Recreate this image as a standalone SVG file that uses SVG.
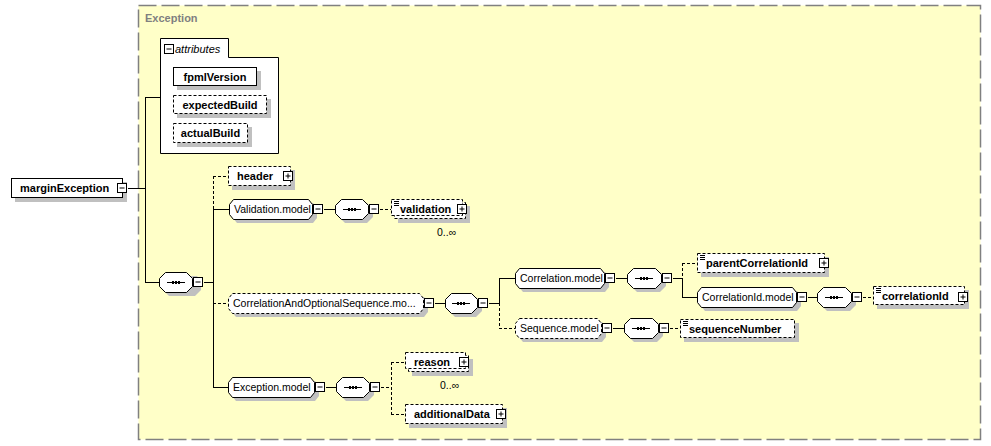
<svg xmlns="http://www.w3.org/2000/svg" width="991" height="446" viewBox="0 0 991 446">
<style>
.el{fill:#fff;stroke:#000;stroke-width:1}
.opt{stroke-dasharray:3,2}
.sh{fill:#c0c0c0;stroke:none}
.ln{fill:none;stroke:#000;stroke-width:1}
.dl{fill:none;stroke:#000;stroke-width:1;stroke-dasharray:3,2}
.tb{font-family:"Liberation Sans",Arial,sans-serif;font-size:11px;font-weight:bold;fill:#000}
.tn{font-family:"Liberation Sans",Arial,sans-serif;font-size:10.5px;fill:#000}
.ic{fill:#fff;stroke:#000;stroke-width:1}
</style>
<defs>
<g id="minus"><rect class="ic" x="0.5" y="0.5" width="9" height="9"/><path class="ln" d="M2.5 5H7.5"/></g>
<g id="plus"><rect class="ic" x="0.5" y="0.5" width="9" height="9"/><path class="ln" d="M2.5 5H7.5M5 2.5V7.5"/></g>
<g id="dots"><path class="ln" d="M0 0.5H18"/><rect x="5" y="-1" width="2" height="3" fill="#000"/><rect x="8" y="-1" width="2" height="3" fill="#000"/><rect x="11" y="-1" width="2" height="3" fill="#000"/></g>
<path id="tic" d="M0 0.5H5M0 2.5H5M0 4.5H5" fill="none" stroke="#000" stroke-width="1"/>
</defs>

<rect x="138.5" y="5.5" width="842" height="434" fill="#ffffc8" stroke="#808080" stroke-width="1.5" stroke-dasharray="18,5"/>
<text x="145" y="22" font-family="'Liberation Sans',Arial,sans-serif" font-size="11px" font-weight="bold" fill="#808080">Exception</text>

<g id="connectors">
<path class="ln" d="M128 188.5H145.5M145.5 97V283M145 97.5H160M145 282.5H159M204 282.5H213.5M213.5 209V387.5M213 209.5H229M213 387.5H228"/>
<path class="dl" d="M213.5 176V209M213 176.5H228M213 303.5H228"/>
<path class="ln" d="M324 209.5H335M435 303.5H445M489 303.5H499.5M499.5 278V303M499 278.5H515M616 278.5H627M673 278.5H682.5M682.5 278V297.5M682 297.5H697M808 297.5H817M613 328.5H624M326 387.5H336"/>
<path class="dl" d="M380 209.5H391M499.5 303V328.5M499 328.5H515M682.5 263V278M682 263.5H697M863 297.5H873M670 328.5H680M381 387.5H391.5M391.5 362V414.5M391 362.5H405M391 414.5H405"/>
</g>

<g id="marginException">
<rect class="sh" x="15" y="182" width="112" height="20"/>
<rect class="el" x="11.5" y="178.5" width="111" height="19"/>
<text class="tb" x="20" y="192">marginException</text>
<use href="#minus" x="117" y="183"/>
</g>

<g id="attributes">
<path class="el" d="M160.5 38.5H228.5V57.5H278.5V153.5H160.5Z"/>
<use href="#minus" x="164" y="44"/>
<text x="175" y="53" font-family="'Liberation Sans',Arial,sans-serif" font-size="11px" font-style="italic" fill="#000">attributes</text>
</g>
<g id="fpmlVersion">
<rect class="sh" x="177" y="71" width="84" height="19"/>
<rect class="el" x="173.5" y="67.5" width="83" height="18"/>
<text class="tb" x="215" y="80.5" text-anchor="middle">fpmlVersion</text>
</g>
<g id="expectedBuild">
<rect class="sh" x="177" y="99" width="94" height="19"/>
<rect class="el opt" x="173.5" y="95.5" width="93" height="18"/>
<text class="tb" x="220" y="108.5" text-anchor="middle">expectedBuild</text>
</g>
<g id="actualBuild">
<rect class="sh" x="177" y="127" width="75" height="20"/>
<rect class="el opt" x="173.5" y="123.5" width="74" height="19"/>
<text class="tb" x="210.5" y="137" text-anchor="middle">actualBuild</text>
</g>

<g id="seq1">
<path class="sh" d="M169 276H197L201 282V290L195 296H169L163 290V282Z"/>
<path class="el" d="M165.5 272.5H186.5L192.5 278.5V286.5L186.5 292.5H165.5L159.5 286.5V278.5Z"/>
<use href="#dots" x="167" y="282"/>
<use href="#minus" x="193" y="277"/>
</g>

<g id="header">
<rect class="sh" x="232" y="170" width="63" height="20"/>
<rect class="el opt" x="228.5" y="166.5" width="62" height="19"/>
<text class="tb" x="237" y="180">header</text>
<use href="#plus" x="283" y="171"/>
</g>

<g id="Validation.model">
<path class="sh" d="M237 203H313L317 208V218L313 223H237L233 218V208Z"/>
<path class="el" d="M233.5 199.5H308.5L312.5 204.5V214.5L308.5 219.5H233.5L229.5 214.5V204.5Z"/>
<text class="tn" x="234" y="213">Validation.model</text>
<use href="#minus" x="313" y="204"/>
</g>
<g id="seqV">
<path class="sh" d="M345 203H367L373 209V217L367 223H345L339 217V209Z"/>
<path class="el" d="M341.5 199.5H362.5L368.5 205.5V213.5L362.5 219.5H341.5L335.5 213.5V205.5Z"/>
<use href="#dots" x="343" y="209"/>
<use href="#minus" x="369" y="204"/>
</g>
<g id="validation">
<rect class="sh" x="398" y="206" width="72" height="17"/>
<rect class="el opt" x="394.5" y="202.5" width="71" height="16"/>
<rect class="el opt" x="391.5" y="199.5" width="71" height="16"/>
<use href="#tic" x="394" y="201"/>
<text class="tb" x="400" y="213">validation</text>
<use href="#plus" x="457" y="204"/>
<text class="tn" x="437" y="236">0..∞</text>
</g>

<g id="CorrelationAndOptionalSequence.model">
<path class="sh" d="M236 297H424L428 302V312L424 317H236L232 312V302Z"/>
<path class="el opt" d="M232.5 293.5H419.5L423.5 298.5V308.5L419.5 313.5H232.5L228.5 308.5V298.5Z"/>
<text class="tn" x="233" y="307">CorrelationAndOptionalSequence.mo...</text>
<use href="#minus" x="424" y="298"/>
</g>
<g id="seqC">
<path class="sh" d="M455 297H476L482 303V311L476 317H455L449 311V303Z"/>
<path class="el" d="M451.5 293.5H471.5L477.5 299.5V307.5L471.5 313.5H451.5L445.5 307.5V299.5Z"/>
<use href="#dots" x="452" y="303"/>
<use href="#minus" x="478" y="298"/>
</g>

<g id="Correlation.model">
<path class="sh" d="M523 272H605L609 277V287L605 292H523L519 287V277Z"/>
<path class="el" d="M519.5 268.5H600.5L604.5 273.5V283.5L600.5 288.5H519.5L515.5 283.5V273.5Z"/>
<text class="tn" x="520" y="282">Correlation.model</text>
<use href="#minus" x="605" y="273"/>
</g>
<g id="seqCo">
<path class="sh" d="M637 272H660L666 278V286L660 292H637L631 286V278Z"/>
<path class="el" d="M633.5 268.5H655.5L661.5 274.5V282.5L655.5 288.5H633.5L627.5 282.5V274.5Z"/>
<use href="#dots" x="635" y="278"/>
<use href="#minus" x="662" y="273"/>
</g>
<g id="parentCorrelationId">
<rect class="sh" x="701" y="257" width="128" height="20"/>
<rect class="el opt" x="697.5" y="253.5" width="127" height="19"/>
<use href="#tic" x="700" y="255"/>
<text class="tb" x="706" y="267">parentCorrelationId</text>
<use href="#plus" x="819" y="258"/>
</g>
<g id="CorrelationId.model">
<path class="sh" d="M705 291H797L801 296V306L797 311H705L701 306V296Z"/>
<path class="el" d="M701.5 287.5H792.5L796.5 292.5V302.5L792.5 307.5H701.5L697.5 302.5V292.5Z"/>
<text class="tn" x="702" y="301">CorrelationId.model</text>
<use href="#minus" x="797" y="292"/>
</g>
<g id="seqCi">
<path class="sh" d="M827 291H850L856 297V305L850 311H827L821 305V297Z"/>
<path class="el" d="M823.5 287.5H845.5L851.5 293.5V301.5L845.5 307.5H823.5L817.5 301.5V293.5Z"/>
<use href="#dots" x="825" y="297"/>
<use href="#minus" x="852" y="292"/>
</g>
<g id="correlationId">
<rect class="sh" x="877" y="290" width="92" height="19"/>
<rect class="el opt" x="873.5" y="286.5" width="91" height="18"/>
<use href="#tic" x="876" y="288"/>
<text class="tb" x="882" y="300">correlationId</text>
<use href="#plus" x="958" y="292"/>
</g>

<g id="Sequence.model">
<path class="sh" d="M523 322H602L606 327V337L602 342H523L519 337V327Z"/>
<path class="el opt" d="M519.5 318.5H597.5L601.5 323.5V333.5L597.5 338.5H519.5L515.5 333.5V323.5Z"/>
<text class="tn" x="520" y="332">Sequence.model</text>
<use href="#minus" x="602" y="323"/>
</g>
<g id="seqS">
<path class="sh" d="M634 322H657L663 328V336L657 342H634L628 336V328Z"/>
<path class="el" d="M630.5 318.5H652.5L658.5 324.5V332.5L652.5 338.5H630.5L624.5 332.5V324.5Z"/>
<use href="#dots" x="632" y="328"/>
<use href="#minus" x="659" y="323"/>
</g>
<g id="sequenceNumber">
<rect class="sh" x="684" y="323" width="115" height="19"/>
<rect class="el opt" x="680.5" y="319.5" width="114" height="18"/>
<use href="#tic" x="683" y="321"/>
<text class="tb" x="689" y="333">sequenceNumber</text>
</g>

<g id="Exception.model">
<path class="sh" d="M236 381H315L319 386V396L315 401H236L232 396V386Z"/>
<path class="el" d="M232.5 377.5H310.5L314.5 382.5V392.5L310.5 397.5H232.5L228.5 392.5V382.5Z"/>
<text class="tn" x="233" y="391">Exception.model</text>
<use href="#minus" x="315" y="382"/>
</g>
<g id="seqE">
<path class="sh" d="M346 381H368L374 387V395L368 401H346L340 395V387Z"/>
<path class="el" d="M342.5 377.5H363.5L369.5 383.5V391.5L363.5 397.5H342.5L336.5 391.5V383.5Z"/>
<use href="#dots" x="344" y="387"/>
<use href="#minus" x="370" y="382"/>
</g>
<g id="reason">
<rect class="sh" x="412" y="359" width="61" height="17"/>
<rect class="el opt" x="408.5" y="355.5" width="60" height="16"/>
<rect class="el opt" x="405.5" y="352.5" width="60" height="16"/>
<text class="tb" x="414" y="366">reason</text>
<use href="#plus" x="459" y="357"/>
<text class="tn" x="440" y="389">0..∞</text>
</g>
<g id="additionalData">
<rect class="sh" x="409" y="408" width="98" height="20"/>
<rect class="el opt" x="405.5" y="404.5" width="97" height="19"/>
<text class="tb" x="414" y="418">additionalData</text>
<use href="#plus" x="496" y="409"/>
</g>
</svg>
